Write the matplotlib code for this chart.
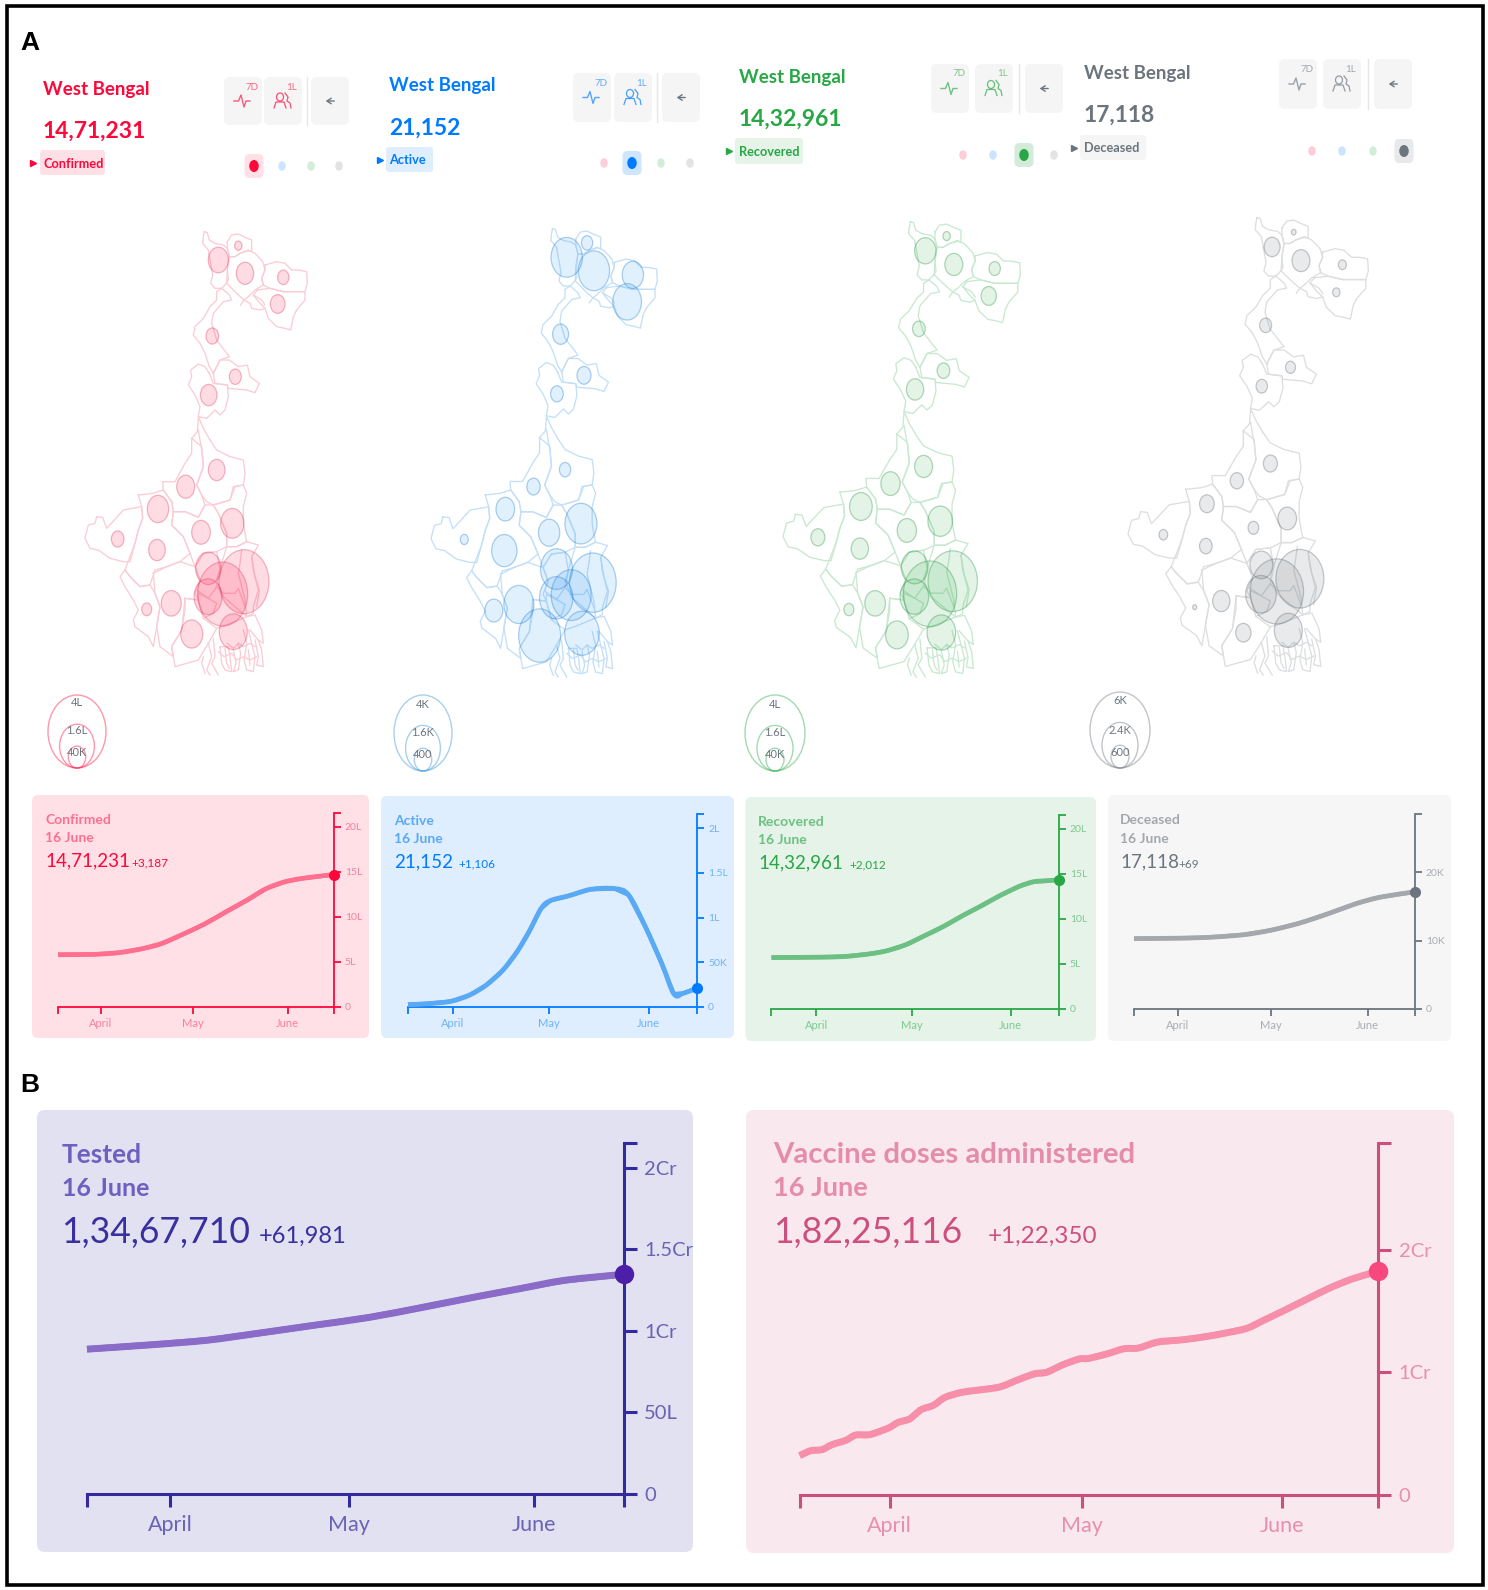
import matplotlib
matplotlib.use("Agg")
import matplotlib.pyplot as plt
from matplotlib.patches import FancyBboxPatch, Ellipse, Rectangle, PathPatch
from matplotlib.path import Path

plt.rcParams['font.family'] = ['Lato', 'DejaVu Sans']
W, H = 1488, 1590

# ---------- data: time series (day 0 = 18 March, day 90 = 16 June) ----------
MONTH_DAYS = [14, 44, 75]
MONTH_LABELS = ['April', 'May', 'June']

conf_days = [0, 12, 20, 27.6, 33.8, 40, 47.7, 55, 61.6, 68, 74, 80, 90]
conf_vals = [5.81, 5.85, 6.04, 6.48, 7.04, 7.96, 9.19, 10.6, 11.85, 13.15, 13.9, 14.3, 14.71]
act_days = [0, 6, 13.3, 19.2, 24.4, 29.6, 34, 37.7, 41.4, 44.3, 50.2, 56.9, 64.3, 68.7, 73.9, 79, 82.8, 85.7, 90]
act_vals = [.026, .037, .063, .134, .246, .414, .62, .843, 1.10, 1.19, 1.246, 1.317, 1.325, 1.254, .90, .489, .146, .153, .2115]
rec_days = [0, 13.7, 22.6, 30.8, 36, 42, 47.9, 53.9, 59.8, 65.8, 71.7, 77.7, 82.1, 86.6, 90]
rec_vals = [5.70, 5.74, 5.81, 6.11, 6.44, 7.11, 8.11, 9.15, 10.33, 11.44, 12.59, 13.6, 14.1, 14.22, 14.33]
dec_days = [0, 11.9, 22.5, 34.7, 43.9, 53, 62.1, 71.3, 78.9, 90]
dec_vals = [10.29, 10.34, 10.44, 10.83, 11.51, 12.54, 13.9, 15.41, 16.34, 17.12]
test_days = [0, 11.2, 20.2, 29.2, 38.2, 47.2, 56.1, 65.1, 72.6, 80.1, 90]
test_vals = [.888, .916, .943, .988, 1.035, 1.082, 1.143, 1.208, 1.259, 1.31, 1.347]
vac_days = [0, 1.7, 3.5, 5, 7.2, 8.7, 10.9, 13.8, 15.3, 17.1, 18.9, 20.8, 22.6, 25.2, 27.4, 31.1, 34, 36.6,
            38.4, 41, 43.5, 45, 47.9, 50.5, 52.7, 55.7, 59.7, 63.4, 66.3, 69.6, 72.2, 75.1, 79.1, 82.5, 86.1, 90]
vac_vals = [.321, .361, .37, .41, .446, .489, .492, .546, .592, .62, .696, .731, .796, .837, .853, .88, .94, .989,
            1.0, 1.063, 1.109, 1.114, 1.152, 1.193, 1.198, 1.247, 1.266, 1.293, 1.321, 1.359, 1.424, 1.497, 1.601, 1.688, 1.764, 1.823]

conf_ticks, conf_labels = [0, 5, 10, 15, 20], ['0', '5L', '10L', '15L', '20L']
act_ticks, act_labels = [0, .5, 1, 1.5, 2], ['0', '50K', '1L', '1.5L', '2L']
rec_ticks, rec_labels = [0, 5, 10, 15, 20], ['0', '5L', '10L', '15L', '20L']
dec_ticks, dec_labels = [0, 10, 20], ['0', '10K', '20K']
test_ticks, test_labels = [0, .5, 1, 1.5, 2], ['0', '50L', '1Cr', '1.5Cr', '2Cr']
vac_ticks, vac_labels = [0, 1, 2], ['0', '1Cr', '2Cr']

# ---------- data: district bubbles ----------
bubble_x = [218.3, 238.3, 245, 283.3, 277.7, 212.3, 235.3, 208.7, 216.7, 185.7, 158, 117.7, 157, 201, 232.3,
            208.3, 244, 222.7, 208, 146.7, 171.3, 191.7, 233.3]
bubble_y = [260, 245.7, 273.3, 277.3, 304, 336, 376.7, 395, 470, 486.7, 509, 539, 550, 532.3, 523.3,
            568.3, 581.7, 594, 596.7, 609.3, 603.3, 634, 631.7]
radius_conf = [30, 11, 26, 17, 22, 19, 18, 25, 25, 27, 32, 19, 25, 28, 35, 38, 75, 75, 42, 15, 30, 33, 42]
radius_act = [47, 17, 47, 32, 43, 24, 21, 19, 17, 20, 28, 12, 38, 32, 48, 48, 70, 60, 50, 27, 45, 63, 52]
radius_rec = [32, 11, 27, 17, 23, 19, 19, 26, 27, 29, 34, 21, 26, 29, 37, 40, 74, 80, 43, 15, 31, 34, 43]
radius_dec = [24, 7, 27, 12, 11, 18, 15, 17, 21, 20, 22, 13, 19, 16, 28, 34, 72, 80, 46, 6, 26, 23, 42]

NORTH = [
    [(103,35),(112,38),(118,60),(135,70),(160,75),(172,85),(178,110),(172,150),(175,180),(165,195),(155,205),(135,205),(122,190),(128,165),(122,130),(115,90),(98,70),(100,50),(103,35)],
    [(172,65),(185,45),(205,42),(225,52),(245,60),(245,95),(235,92),(210,100),(195,110),(178,110),(172,85),(172,65)],
    [(178,110),(195,110),(210,100),(235,90),(255,100),(278,125),(285,150),(275,175),(280,195),(255,210),(235,230),(222,240),(205,225),(185,205),(170,190),(172,150),(178,110)],
    [(285,135),(320,125),(345,130),(365,150),(385,150),(410,155),(412,190),(405,215),(370,215),(340,215),(300,205),(280,195),(275,175),(285,150),(285,135)],
    [(262,210),(300,205),(340,215),(405,215),(405,240),(380,270),(370,290),(362,330),(345,325),(320,320),(295,295),(285,265),(270,250),(250,225),(262,210)],
    [(212,255),(222,240),(240,250),(245,265),(270,270),(285,265)],
    [(250,225),(275,240),(285,255)],
    [(155,205),(178,225),(185,240),(160,245),(130,280),(125,310),(140,360),(178,410),(150,420),(130,460),(118,440),(105,400),(90,370),(70,345),(75,320),(100,295),(120,260),(140,240),(140,215),(155,205)],
    [(130,460),(150,420),(178,420),(205,440),(232,435),(240,470),(268,490),(255,518),(230,510),(175,505),(172,495),(135,490),(130,460)],
    [(118,460),(130,490),(172,495),(175,530),(165,570),(150,585),(135,570),(110,595),(85,590),(90,560),(75,525),(55,495),(65,470),(62,450),(85,432),(105,440),(118,460)],
    [(85,590),(100,625),(120,660)],
    [(85,595),(82,635),(65,655)],
]
SOUTH = [
    [(420,30),(440,60),(480,80),(520,90),(525,130),(520,165),(490,170),(480,210),(430,225),(410,215),(395,195),(380,165),(400,110),(395,60),(385,0)],
    [(365,25),(395,50),(400,110),(380,165),(395,195),(405,225),(385,262),(345,245),(310,245),(305,215),(280,180),(278,155),(315,155),(345,100),(365,70),(365,25)],
    [(80,260),(98,262),(110,295),(160,240),(215,230),(218,265),(205,300),(195,340),(180,395),(160,395),(120,385),(85,360),(60,355),(45,325),(55,285),(75,280),(80,260)],
    [(205,195),(250,190),(280,180),(305,215),(310,245),(305,285),(340,320),(360,370),(330,395),(290,410),(255,420),(240,465),(210,470),(180,440),(165,420),(195,340),(205,300),(218,265),(215,230),(205,195)],
    [(310,245),(345,245),(385,262),(405,225),(430,225),(445,250),(470,310),(470,350),(440,365),(400,370),(375,410),(360,370),(340,320),(305,285),(310,245)],
    [(430,225),(480,210),(495,170),(520,165),(530,190),(520,230),(520,280),(525,310),(530,335),(500,350),(470,350),(470,310),(445,250),(430,225)],
    [(530,335),(565,345),(545,380),(550,420),(565,480),(550,530),(550,550),(530,560),(460,500),(440,450),(470,350),(500,350),(530,335)],
    [(515,360),(510,400),(505,430),(515,470),(525,510),(530,560)],
    [(545,380),(555,440),(568,480),(560,530)],
    [(375,410),(400,370),(440,365),(450,420),(440,470),(415,505),(380,480),(390,450),(375,410)],
    [(385,490),(415,505),(440,520),(430,550),(400,565),(385,510),(385,490)],
    [(440,470),(460,490),(495,490),(505,475),(525,530)],
    [(250,430),(290,410),(330,395),(375,410),(390,450),(375,490),(385,510),(345,505),(345,540),(335,600),(305,650),(310,680),(270,650),(260,590),(270,530),(255,490),(250,430)],
    [(165,420),(180,440),(210,470),(240,465),(255,490),(270,530),(260,590),(250,650),(235,620),(195,590),(190,570),(205,540),(190,510),(165,470),(150,440),(165,420)],
    [(345,505),(385,510),(400,565),(440,595),(415,640),(385,690),(315,710),(305,650),(335,600),(345,505)],
    [(440,595),(470,585),(530,560),(555,555),(575,600),(580,640),(565,630),(540,600)],
    [(415,640),(425,680),(410,720),(420,735)],
    [(430,625),(435,680),(425,700),(445,735)],
    [(450,650),(455,700),(465,720),(485,725),(480,680),(475,650),(450,650)],
    [(490,660),(498,700),(490,725),(505,720),(512,670),(505,640)],
    [(520,600),(530,640),(522,690),(530,720),(550,725),(555,680),(545,640),(535,600)],
    [(555,630),(565,680),(560,705),(580,710),(575,660),(565,630)],
    [(400,680),(395,700),(405,730)],
    [(465,655),(470,700),(478,715)],
    [(535,660),(540,705)],
    [(472,640),(490,655),(505,640),(520,650),(540,640),(555,650)],
    [(445,665),(462,680),(485,670),(500,690),(520,680),(540,690),(560,680)],
]

# ---------- styling ----------
RED, BLUE, GREEN, GREY = '#ff073a', '#007bff', '#28a745', '#6c757d'
fig = plt.figure(figsize=(W / 100, H / 100), dpi=100, facecolor='white')
bg = fig.add_axes([0, 0, 1, 1], zorder=0)
bg.set_xlim(0, W); bg.set_ylim(H, 0); bg.axis('off')


def rbox(x0, y0, x1, y1, fc, r=6, z=1):
    bg.add_patch(FancyBboxPatch((x0, y0), x1 - x0, y1 - y0, boxstyle=f'round,pad=0,rounding_size={r}',
                                fc=fc, ec='none', zorder=z))


def px_axes(l, t, r, b, z=2):
    ax = fig.add_axes([l / W, 1 - b / H, (r - l) / W, (b - t) / H], zorder=z)
    ax.patch.set_alpha(0)
    return ax


def smooth_curve(xs, ys):
    """Catmull-Rom through the read points, as Bezier segments of a Path."""
    verts, codes = [(xs[0], ys[0])], [Path.MOVETO]
    n = len(xs)
    for i in range(n - 1):
        x0, y0 = xs[max(i - 1, 0)], ys[max(i - 1, 0)]
        x1, y1 = xs[i], ys[i]
        x2, y2 = xs[i + 1], ys[i + 1]
        x3, y3 = xs[min(i + 2, n - 1)], ys[min(i + 2, n - 1)]
        verts += [(x1 + (x2 - x0) / 6, y1 + (y2 - y0) / 6), (x2 - (x3 - x1) / 6, y2 - (y3 - y1) / 6), (x2, y2)]
        codes += [Path.CURVE4] * 3
    return Path(verts, codes)


# outer frame + panel letters
bg.add_patch(Rectangle((6.5, 6), 1476, 1579, fc='none', ec='black', lw=2.6, zorder=5))
bg.text(20, 43, 'A', family='Liberation Sans', weight='bold', fontsize=19, va='center', color='black')
bg.text(20, 1085, 'B', family='Liberation Sans', weight='bold', fontsize=19, va='center', color='black')


# ---------- header rows ----------
def pulse(cx, cy, c):
    xs = [-8, -3.5, -1, 2, 4, 8]
    ys = [0, 0, -6, 6, 0, 0]
    bg.plot([cx + v for v in xs], [cy + v for v in ys], color=c, lw=1, alpha=.65, zorder=3)


def person(cx, cy, c):
    bg.add_patch(Ellipse((cx - 2, cy - 4), 7, 8, fc='none', ec=c, lw=.9, alpha=.7, zorder=3))
    bg.plot([cx - 8, cx - 6, cx + 2, cx + 4], [cy + 7, cy + 1, cy + 1, cy + 7], color=c, lw=.9, alpha=.7, zorder=3)
    bg.plot([cx + 3, cx + 6, cx + 5, cx + 8, cx + 9], [cy - 8, cy - 4, cy, cy + 2, cy + 7], color=c, lw=.9, alpha=.7, zorder=3)


def header(color, chipfc, xt, y_title, y_num, number, label, chip, ax_arrow, boxes, box_y, dots, dots_y, active, active_chip):
    bg.text(xt, y_title, 'West Bengal', color=color, weight='bold', fontsize=13.5, va='center')
    bg.text(xt, y_num + 1.5, number, color=color, weight='bold', fontsize=16.5, va='center')
    rbox(chip[0], chip[1], chip[2], chip[3], chipfc, r=3)
    bg.text(xt, (chip[1] + chip[3]) / 2 + 1, label, color=color, weight='bold', fontsize=9.2, va='center')
    bg.plot([ax_arrow], [(chip[1] + chip[3]) / 2], marker='>', ms=4, color=color, zorder=3)
    b1, b2, dv, b3 = boxes
    for x in (b1, b2, b3):
        rbox(x, box_y[0], x + 38, box_y[1], '#f5f5f6', r=6)
    bg.plot([dv, dv], box_y, color='#e6e6e8', lw=1, zorder=2)
    cy = (box_y[0] + box_y[1]) / 2
    pulse(b1 + 18, cy, color)
    person(b2 + 18, cy, color)
    bg.text(b1 + 28, box_y[0] + 10, '7D', color=color, alpha=.6, fontsize=7, ha='center', va='center')
    bg.text(b2 + 28, box_y[0] + 10, '1L', color=color, alpha=.6, fontsize=7, ha='center', va='center')
    bg.annotate('', xy=(b3 + 12, cy), xytext=(b3 + 26, cy), zorder=3,
                arrowprops=dict(arrowstyle='->,head_width=.2,head_length=.3', color='#6c757d', lw=1))
    cols = [RED, BLUE, GREEN, GREY]
    for i, x in enumerate(dots):
        if i == active:
            rbox(x - 9.5, dots_y - 12, x + 9.5, dots_y + 12, active_chip, r=5)
            bg.add_patch(Ellipse((x, dots_y), 9.5, 12, fc=cols[i], ec='none', zorder=3))
        else:
            bg.add_patch(Ellipse((x, dots_y), 7.5, 9.5, fc=cols[i], alpha=.2, ec='none', zorder=3))


header(RED, '#ffe0e6', 43, 90, 130, '14,71,231', 'Confirmed', (40, 150, 105, 175), 33,
       (224, 264, 306.5, 311), (77, 125), (254, 282, 311, 339), 166, 0, '#ffe0e6')
header(BLUE, '#deeeff', 389, 86, 127, '21,152', 'Active', (386, 147, 433, 172), 380,
       (573, 614, 657, 662), (73, 122), (604, 632, 661, 690), 163, 1, '#cfe5fd')
header(GREEN, '#e5f3e8', 739, 77, 118, '14,32,961', 'Recovered', (735, 138, 803, 164), 729,
       (931, 975, 1019, 1025), (64, 113), (963, 993, 1024, 1054), 155, 2, '#d3ebd9')
header(GREY, '#f5f5f6', 1084, 73, 114, '17,118', 'Deceased', (1080, 135, 1146, 160), 1074,
       (1279, 1323, 1368, 1374), (59, 109), (1312, 1342, 1373, 1404), 151, 3, '#e8e9eb')


# ---------- maps ----------
def draw_map(bbox, radii, fill, edge, outline, fa):
    l, t, r, b = bbox
    ax = px_axes(l, t, r, b)
    ax.set_xlim(85, 307); ax.set_ylim(675, 231); ax.axis('off')
    sx = (r - l) / 222
    for shape in NORTH:
        ax.plot([p[0] / 3 + 170 for p in shape], [p[1] / 3 + 220 for p in shape], color=outline, lw=.95, clip_on=False)
    for shape in SOUTH:
        ax.plot([p[0] / 3 + 70 for p in shape], [p[1] / 3 + 430 for p in shape], color=outline, lw=.95, clip_on=False)
    for x, y, rad in zip(bubble_x, bubble_y, radii):
        w = 2 * rad / 3 / sx
        ax.add_patch(Ellipse((x, y), w, w * 1.28, fc=fill, alpha=fa, ec='none', zorder=3, clip_on=False))
        ax.add_patch(Ellipse((x, y), w, w * 1.28, fc='none', ec=edge, alpha=.34, lw=.9, zorder=4, clip_on=False))


draw_map((85, 231, 307, 675), radius_conf, '#ff073a', '#e0305a', '#fbccd6', .14)
draw_map((431, 228, 657, 677), radius_act, '#1c8cf0', '#1077d0', '#c3e0f8', .13)
draw_map((783, 221, 1020, 677), radius_rec, '#28a745', '#1e8f3a', '#c8e9d0', .13)
draw_map((1128, 217, 1368, 675), radius_dec, '#6c757d', '#5c656d', '#dcdee0', .15)


# ---------- size legends ----------
def size_legend(cx, top, bottom, rx, color, labels, ys):
    h = bottom - top
    for f in (1, .6, .3):
        bg.add_patch(Ellipse((cx, bottom - h * f / 2), 2 * rx * f, h * f, fc='none', ec=color, alpha=.42, lw=1, zorder=3))
    for s, y in zip(labels, ys):
        bg.text(cx, y, s, color='#6c757d', fontsize=8, ha='center', va='center', zorder=4)


size_legend(77, 695, 768, 29, RED, ['4L', '1.6L', '40K'], [703, 731, 753])
size_legend(423, 695, 771, 29, '#2f8fd8', ['4K', '1.6K', '400'], [704, 733, 755])
size_legend(775, 695, 771, 30, GREEN, ['4L', '1.6L', '40K'], [704, 733, 755])
size_legend(1120, 692, 768, 30, GREY, ['6K', '2.4K', '600'], [701, 730, 753])


# ---------- time-series cards ----------
def card(box, frame, ymax, days, vals, ticks, labels, fc, axis_c, line_c, label_c, title_c, num_c, dot_c, title, number, delta,
         tx, dx, ys, fs, lw, ms, axlw, ticklen, pad):
    rbox(*box, fc, r=8 if fs[0] > 15 else 6)
    bg.text(tx, ys[0], title, color=title_c, weight='bold', fontsize=fs[0], va='center')
    bg.text(tx, ys[1], '16 June', color=title_c, weight='bold', fontsize=fs[1], va='center')
    bg.text(tx, ys[2], number, color=num_c, fontsize=fs[2], va='center')
    bg.text(dx, ys[3], delta, color=num_c, fontsize=fs[3], va='center')
    ax = px_axes(*frame, z=3)
    ax.set_xlim(0, 90); ax.set_ylim(0, ymax)
    for s in ('top', 'left'):
        ax.spines[s].set_visible(False)
    for s in ('bottom', 'right'):
        ax.spines[s].set_color(axis_c); ax.spines[s].set_linewidth(axlw)
    ax.yaxis.tick_right()
    ax.set_xticks([0] + MONTH_DAYS + [90], [''] + MONTH_LABELS + [''])
    ax.set_yticks(list(ticks) + [ymax], list(labels) + [''])
    ax.tick_params(axis='both', color=axis_c, width=axlw, length=ticklen, labelcolor=label_c, pad=pad)
    ax.tick_params(axis='y', labelsize=fs[4])
    ax.tick_params(axis='x', labelsize=fs[5])
    ax.plot(days, vals, color=line_c, lw=lw * .9, solid_capstyle='butt', solid_joinstyle='round', clip_on=False, zorder=4)
    ax.add_patch(PathPatch(smooth_curve(days, vals), fc='none', ec=line_c, lw=lw, capstyle='butt', clip_on=False, zorder=4))
    ax.plot(days[-1], vals[-1], 'o', color=dot_c, ms=ms, mec='none', clip_on=False, zorder=5)


small = dict(fs=(10, 10, 13.5, 8.5, 7.5, 8), lw=3.4, ms=8, axlw=1.3, ticklen=5, pad=3)
card((32, 795, 369, 1038), (58, 813, 333.6, 1007), 21.55, conf_days, conf_vals, conf_ticks, conf_labels,
     '#ffe0e6', RED, '#ff6f8f', '#f9809c', '#ff6f8f', RED, RED, 'Confirmed', '14,71,231', '+3,187',
     45, 131, (820, 838, 861, 863), **small)
card((381, 796, 734, 1038), (408, 814, 697, 1007), 2.16, act_days, act_vals, act_ticks, act_labels,
     '#deeeff', BLUE, '#5aa9f5', '#70b3f5', '#5aa9f5', BLUE, BLUE, 'Active', '21,152', '+1,106',
     394, 458, (821, 839, 862, 864), **small)
card((745.5, 797, 1096, 1041), (771.5, 815, 1058.7, 1009), 21.5, rec_days, rec_vals, rec_ticks, rec_labels,
     '#e5f3e8', GREEN, '#6dc083', '#7fc993', '#6dc083', GREEN, GREEN, 'Recovered', '14,32,961', '+2,012',
     758, 849, (822, 840, 863, 865), **small)
card((1108, 795, 1451, 1041), (1134, 814, 1414.6, 1009), 28.5, dec_days, dec_vals, dec_ticks, dec_labels,
     '#f6f6f7', GREY, '#a4a8ad', '#a9adb2', '#a4a8ad', GREY, GREY, 'Deceased', '17,118', '+69',
     1120, 1178, (820, 839, 862, 864), **small)

large = dict(lw=5, ms=14, axlw=2.2, ticklen=9.3, pad=5.5)
card((37, 1110, 693, 1552), (87, 1143, 623.6, 1494), 2.152, test_days, test_vals, test_ticks, test_labels,
     '#e2e1f1', '#332a9f', '#8a6cc8', '#6a62b4', '#6f5fc0', '#3a2f9f', '#4b1fa8', 'Tested', '1,34,67,710', '+61,981',
     61.5, 259, (1155, 1188, 1232, 1236), fs=(19, 18, 25.7, 17, 14.5, 15.5), **large)
card((746, 1110, 1454, 1553), (799.7, 1143, 1378, 1495), 2.87, vac_days, vac_vals, vac_ticks, vac_labels,
     '#fae8ef', '#c94f7c', '#f78fab', '#e78fae', '#e58cab', '#cc4f7e', '#f8487e', 'Vaccine doses administered', '1,82,25,116', '+1,22,350',
     773, 987.5, (1155, 1188, 1232, 1236), fs=(21.2, 19.5, 25.7, 17.5, 14.5, 15.5), **large)

fig.savefig('out.png', dpi=100)
